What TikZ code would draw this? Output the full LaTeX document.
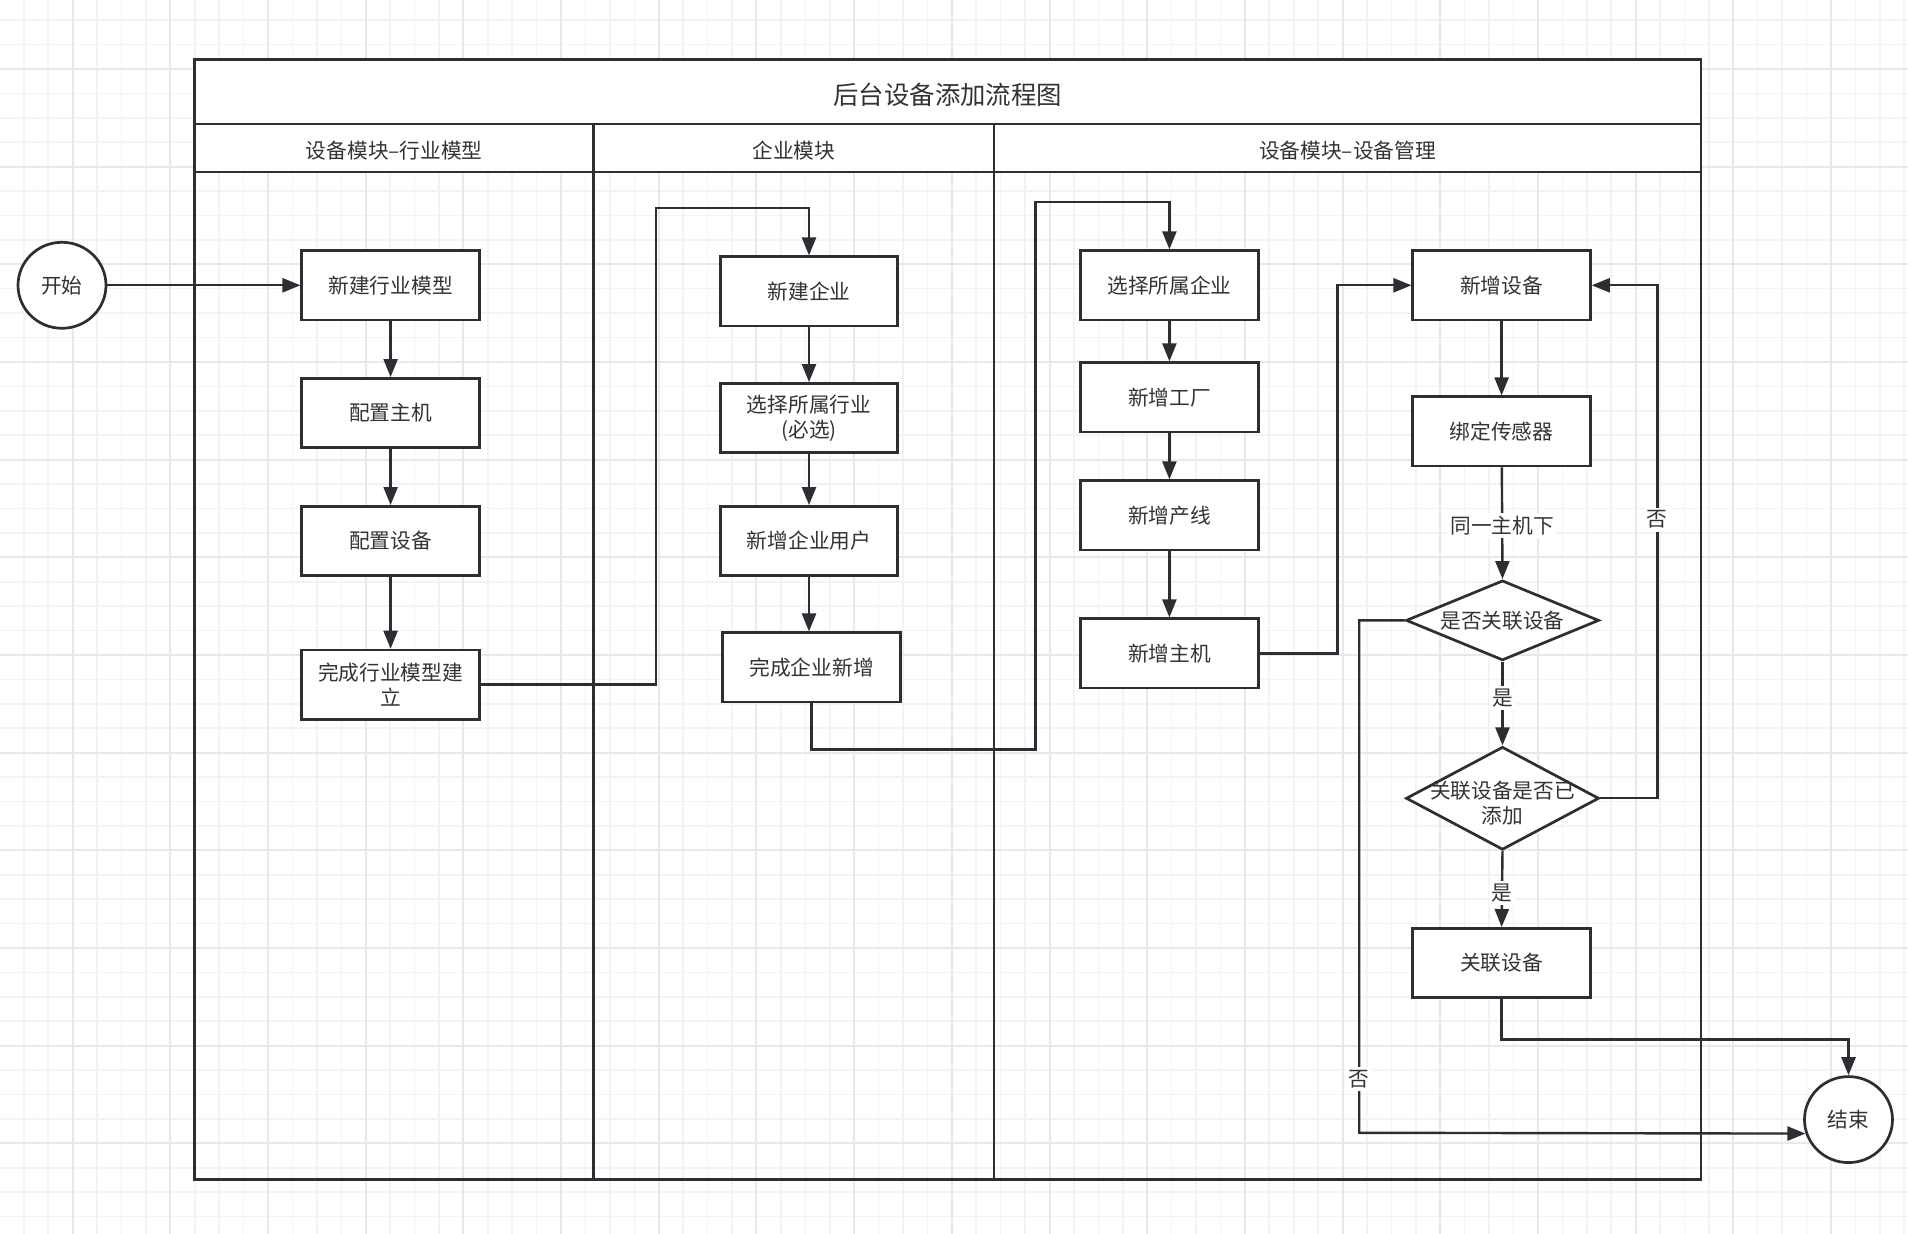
\documentclass[tikz,border=0pt]{standalone}
\usepackage{fontspec}
\setmainfont{Noto Sans CJK SC}
\usetikzlibrary{arrows.meta,shapes.geometric,calc}
\definecolor{ln}{HTML}{2B2E33}
\definecolor{tx}{HTML}{333333}
\definecolor{gmin}{HTML}{F3F3F3}
\definecolor{gmaj}{HTML}{E8E8E8}
\newcommand\nodefnt{\fontsize{10.35pt}{12.5pt}\selectfont}
\newcommand\titlefnt{\fontsize{12.7pt}{15pt}\selectfont}
\begin{document}
\begin{tikzpicture}[x=0.5pt,y=-0.5pt,
  box/.style={draw=ln,line width=1.35pt,fill=white,minimum width=88.8pt,minimum height=34.6pt,inner sep=0pt,align=center,text=tx,font=\nodefnt},
  dia/.style={diamond,draw=ln,line width=1.35pt,fill=white,inner sep=0pt,minimum width=96.5pt,text=tx,font=\nodefnt},
  term/.style={ellipse,draw=ln,line width=1.35pt,fill=white,minimum width=44pt,minimum height=43pt,inner sep=0pt,text=tx,font=\nodefnt},
  conn/.style={draw=ln,line width=1.2pt,-{Triangle[length=9pt,width=7pt]}},
  lbl/.style={fill=white,inner sep=1.5pt,text=tx,font=\nodefnt},
  frame/.style={draw=ln,line width=1.4pt},
  gminor/.style={draw=gmin,line width=0.8pt},
  gmajor/.style={draw=gmaj,line width=1pt}]
\useasboundingbox (0,0) rectangle (1908,1234);
\fill[white] (0,0) rectangle (1908,1234);
% grid
\foreach \i in {0,...,79} \draw[gminor] ({-0.56+24.42*\i},0) -- ({-0.56+24.42*\i},1234);
\foreach \i in {0,...,50} \draw[gminor] (0,{20.06+24.42*\i}) -- (1908,{20.06+24.42*\i});
\foreach \i in {-1,...,19} \draw[gmajor] ({72.7+97.68*\i},0) -- ({72.7+97.68*\i},1234);
\foreach \i in {0,...,12} \draw[gmajor] (0,{68.9+97.68*\i}) -- (1908,{68.9+97.68*\i});
% pool frame
\fill[white] (194.7,59.6) rectangle (1701,172);
\draw[frame] (194.7,59.6) rectangle (1701,1179.5);
\draw[frame] (194.7,124) -- (1701,124);
\draw[frame] (194.7,172) -- (1701,172);
\draw[frame] (593.8,124) -- (593.8,1179.5);
\draw[frame] (994,124) -- (994,1179.5);
\node[text=tx,font=\titlefnt] (title) at (947.8,94.5) {后台设备添加流程图};
\node[text=tx,font=\nodefnt] (h1) at (394.3,151) {设备模块–行业模型};
\node[text=tx,font=\nodefnt] (h2) at (793.9,151) {企业模块};
\node[text=tx,font=\nodefnt] (h3) at (1347.5,151) {设备模块–设备管理};
% nodes
\node[term] (start) at (62,285.3) {开始};
\node[box] (a1) at (390.6,285.3) {新建行业模型};
\node[box] (a2) at (390.6,413) {配置主机};
\node[box] (a3) at (390.6,541) {配置设备};
\node[box] (a4) at (390.6,684.7) {完成行业模型建\\立};
\node[box] (b1) at (809,291.4) {新建企业};
\node[box] (b2) at (809,418) {选择所属行业\\(必选)};
\node[box] (b3) at (809,541) {新增企业用户};
\node[box] (b4) at (811.6,667.4) {完成企业新增};
\node[box] (c1) at (1169.4,285.3) {选择所属企业};
\node[box] (c2) at (1169.4,397.3) {新增工厂};
\node[box] (c3) at (1169.4,515.3) {新增产线};
\node[box] (c4) at (1169.4,653.4) {新增主机};
\node[box] (d1) at (1501.6,285.3) {新增设备};
\node[box] (d2) at (1501.6,431.4) {绑定传感器};
\node[dia,minimum height=40pt,label={[text=tx,font=\nodefnt]center:是否关联设备}] (d3) at (1502.5,620.4) {};
\node[dia,minimum height=51.5pt,label={[text=tx,font=\nodefnt,align=center,yshift=-2.5pt]center:关联设备是否已\\添加}] (d4) at (1502.5,798.3) {};
\node[box] (d5) at (1501.6,963) {关联设备};
\node[term] (end) at (1848.5,1119.6) {结束};
% helper coordinates
\coordinate (k1) at (655.9,208);
\coordinate (k2) at (1035.5,749.5);
\coordinate (k3) at (1035.5,202.3);
\coordinate (k4) at (1337.3,285.3);
\coordinate (k5) at (1359.2,1132.8);
\coordinate (k6) at (1657.3,500);
% connectors
\draw[conn] (start) -- (a1);
\draw[conn] (a1) -- (a2);
\draw[conn] (a2) -- (a3);
\draw[conn] (a3) -- (a4);
\draw[conn] (a4.east) -| (k1) -| (b1.north);
\draw[conn] (b1) -- (b2);
\draw[conn] (b2) -- (b3);
\draw[conn] (b3) -- (b4.north -| b3);
\draw[conn] (b4.south) |- (k2) -- (k3) -| (c1.north);
\draw[conn] (c1) -- (c2);
\draw[conn] (c2) -- (c3);
\draw[conn] (c3) -- (c4);
\draw[conn] (c4.east) -| (k4) -- (d1.west);
\draw[conn] (d1) -- (d2);
\draw[conn] (d2) -- node[lbl,pos=0.52] (l1) {同一主机下} (d3.north);
\draw[conn] (d3.south) -- node[lbl,pos=0.43] (l2) {是} (d4.north);
\draw[conn] (d4.south) -- node[lbl,pos=0.55] (l3) {是} (d5.north);
\draw[conn] (d3.west) -| (k5) -- (end.198);
\draw[conn] (d4.east) -| (k6) |- (d1.east);
\draw[conn] (d5.south) -- ++(0,40.5) -| (end.north);
\node[lbl] (l4) at (1359.2,1079.3) {否};
\node[lbl] (l5) at (1657.3,519.6) {否};
\end{tikzpicture}
\end{document}
